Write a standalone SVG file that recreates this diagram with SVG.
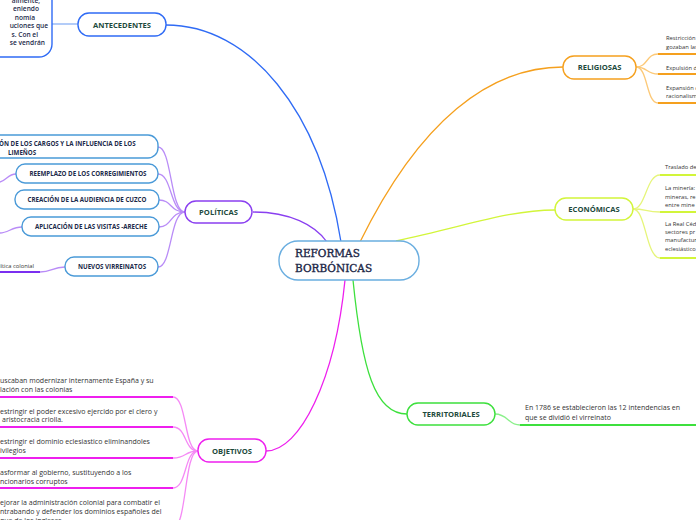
<svg xmlns="http://www.w3.org/2000/svg" width="696" height="520" viewBox="0 0 696 520">
<style>
.bg{fill:#ffffff}
.node{fill:#ffffff;stroke-width:1.4}
.lbl{font-family:"Open Sans","Liberation Sans",sans-serif;font-weight:bold;font-size:7.6px;fill:#1d4a3c;text-anchor:middle}
.sub{font-family:"Open Sans","Liberation Sans",sans-serif;font-weight:bold;font-size:6.2px;fill:#1c2a4a;text-anchor:middle}
.leaf{font-family:"Open Sans","Liberation Sans",sans-serif;font-size:5.8px;fill:#333333}
.obj{font-family:"Open Sans","Liberation Sans",sans-serif;font-size:7px;fill:#333333}
.ant{font-family:"Open Sans","Liberation Sans",sans-serif;font-weight:600;font-size:6.6px;fill:#1c2a4a;text-anchor:end}
.c{fill:none;stroke-width:1.3}
.u{fill:none;stroke-width:2}
</style>
<rect class="bg" x="0" y="0" width="696" height="520"/>
<g id="connectors">
  <path class="c" d="M166,25 C250,25 320,110 341,242" stroke="#2f6bf5" stroke-width="1.6"/>
  <path class="c" d="M360,242 C420,120 490,67 563,67" stroke="#f5a01e" stroke-width="1.6"/>
  <path class="c" d="M396,241 C470,225 510,210 555,210" stroke="#d2f53a" stroke-width="1.6"/>
  <path class="c" d="M253,212 C290,212 315,225 327,242" stroke="#8a3ff0" stroke-width="1.6"/>
  <path class="c" d="M345,280 C335,380 300,451 266,451" stroke="#ee1fee" stroke-width="1.6"/>
  <path class="c" d="M353,280 C362,370 375,414 407,414" stroke="#3de03d" stroke-width="1.6"/>
  <path class="c" d="M52,24 H78" stroke="#8ab0f5"/>
  <g stroke="#b98cf7">
    <path class="c" d="M185,212 C170,212 172,147 158,147"/>
    <path class="c" d="M185,212 C170,212 172,174 158,174"/>
    <path class="c" d="M185,212 C170,212 172,200 159,200"/>
    <path class="c" d="M185,212 C170,212 172,227 159,227"/>
    <path class="c" d="M185,212 C170,212 172,267 158,267"/>
    <path class="c" d="M16,174 C8,174 6,181 0,182"/>
    <path class="c" d="M22,227 C12,227 8,233 0,233"/>
    <path class="c" d="M65,267 C52,267 52,272 40,272"/>
  </g>
  <path class="u" d="M0,272 H40" stroke="#7b2ff0"/>
  <g stroke="#fcc978">
    <path class="c" d="M636,67 C648,67 646,54 658,54"/>
    <path class="c" d="M636,67 C648,67 646,74 658,74"/>
    <path class="c" d="M636,67 C648,67 646,103 658,103"/>
  </g>
  <g stroke="#f5a01e">
    <path class="u" d="M658,54 H696"/>
    <path class="u" d="M658,74 H696"/>
    <path class="u" d="M658,103 H696"/>
  </g>
  <g stroke="#e6f57a">
    <path class="c" d="M633,209 C646,209 646,175 660,175"/>
    <path class="c" d="M633,209 C646,209 646,212 660,212"/>
    <path class="c" d="M633,209 C646,209 646,258 660,258"/>
  </g>
  <g stroke="#d2f53a">
    <path class="u" d="M660,175 H696"/>
    <path class="u" d="M660,212 H696"/>
    <path class="u" d="M660,258 H696"/>
  </g>
  <path class="c" d="M495,414 C508,414 508,425 520,425" stroke="#8af08a"/>
  <path class="u" d="M520,425 H696" stroke="#3de03d"/>
  <g stroke="#f58af5">
    <path class="c" d="M198,451 C184,451 187,397 173,397"/>
    <path class="c" d="M198,451 C184,451 187,427 173,427"/>
    <path class="c" d="M198,451 C184,451 187,458 173,458"/>
    <path class="c" d="M198,451 C184,451 187,488 173,488"/>
    <path class="c" d="M198,451 C184,451 187,528 173,528"/>
  </g>
  <g stroke="#ee1fee">
    <path class="u" d="M0,397 H173"/>
    <path class="u" d="M0,427 H173"/>
    <path class="u" d="M0,458 H173"/>
    <path class="u" d="M0,488 H173"/>
  </g>
</g>

<g id="center">
  <rect class="node" x="279" y="241" width="140" height="39" rx="19" stroke="#6aaee0" stroke-width="1.5"/>
  <text x="295" y="257" font-family="'DejaVu Serif','Liberation Serif',serif" font-size="10.5" fill="#1a2545" stroke="#1a2545" stroke-width="0.35">REFORMAS</text>
  <text x="295" y="272" font-family="'DejaVu Serif','Liberation Serif',serif" font-size="10.5" fill="#1a2545" stroke="#1a2545" stroke-width="0.35">BORBÓNICAS</text>
</g>

<g id="antecedentes-text">
  <rect class="node" x="-20" y="-20" width="72" height="77" rx="13" stroke="#2f6bf5"/>
  <text class="ant" x="40" y="2.5">almente,</text>
  <text class="ant" x="39" y="11">eniendo</text>
  <text class="ant" x="35" y="19.5">nomía</text>
  <text class="ant" x="48" y="28">uciones que</text>
  <text class="ant" x="38" y="36.5">s. Con el</text>
  <text class="ant" x="45" y="45">se vendrán</text>
</g>
<g id="antecedentes">
  <rect class="node" x="78" y="13" width="88" height="23" rx="11" stroke="#2f6bf5"/>
  <text class="lbl" x="122" y="27.5">ANTECEDENTES</text>
</g>

<g id="politicas">
  <rect class="node" x="185" y="201" width="67" height="22" rx="11" stroke="#8a3ff0"/>
  <text class="lbl" x="218.5" y="214.5">POLÍTICAS</text>
</g>
<g id="pol-cargos">
  <rect class="node" x="-20" y="135" width="178" height="23" rx="10" stroke="#4a9ad8"/>
  <text class="sub" x="-1" y="145.5" style="text-anchor:start">ÓN DE LOS CARGOS  Y LA INFLUENCIA DE LOS</text>
  <text class="sub" x="8" y="154.5" style="text-anchor:start">LIMEÑOS</text>
</g>
<g id="pol-corregimientos">
  <rect class="node" x="16" y="164" width="142" height="19" rx="9" stroke="#4a9ad8"/>
  <text class="sub" x="88" y="176">REEMPLAZO DE LOS CORREGIMIENTOS</text>
</g>
<g id="pol-audiencia">
  <rect class="node" x="15" y="190" width="144" height="19" rx="9" stroke="#4a9ad8"/>
  <text class="sub" x="87" y="202">CREACIÓN DE LA AUDIENCIA DE CUZCO</text>
</g>
<g id="pol-visitas">
  <rect class="node" x="22" y="217" width="137" height="19" rx="9" stroke="#4a9ad8"/>
  <text class="sub" x="91" y="229">APLICACIÓN DE LAS VISITAS -ARECHE</text>
</g>
<g id="pol-virreinatos">
  <rect class="node" x="65" y="257" width="93" height="19" rx="9" stroke="#4a9ad8"/>
  <text class="sub" x="112" y="269">NUEVOS VIRREINATOS</text>
</g>
<g id="pol-colonial">
  <text class="leaf" x="-1" y="268">lítica colonial</text>
</g>

<g id="religiosas">
  <rect class="node" x="563" y="56" width="73" height="23" rx="11" stroke="#f5a01e"/>
  <text class="lbl" x="599.5" y="70">RELIGIOSAS</text>
</g>
<g id="rel-leaves">
  <text class="leaf" x="666" y="40">Restricción d</text>
  <text class="leaf" x="666" y="49">gozaban las</text>
  <text class="leaf" x="666" y="70">Expulsión de</text>
  <text class="leaf" x="666" y="90">Expansión d</text>
  <text class="leaf" x="666" y="98">racionalismo</text>
</g>

<g id="economicas">
  <rect class="node" x="555" y="198" width="78" height="22" rx="11" stroke="#d2f53a"/>
  <text class="lbl" x="594" y="211.5">ECONÓMICAS</text>
</g>
<g id="eco-leaves">
  <text class="leaf" x="665" y="169">Traslado de</text>
  <text class="leaf" x="665" y="190">La minería: </text>
  <text class="leaf" x="665" y="199">mineras, re</text>
  <text class="leaf" x="665" y="207">entre mine</text>
  <text class="leaf" x="665" y="226">La Real Céd</text>
  <text class="leaf" x="665" y="234">sectores pr</text>
  <text class="leaf" x="665" y="242">manufactur</text>
  <text class="leaf" x="665" y="251">eclesiástico</text>
</g>

<g id="territoriales">
  <rect class="node" x="407" y="403" width="88" height="22" rx="11" stroke="#3de03d"/>
  <text class="lbl" x="451" y="416.5">TERRITORIALES</text>
</g>
<g id="ter-leaf">
  <text class="obj" x="525" y="410" font-size="6.7">En 1786 se establecieron las  12 intendencias en</text>
  <text class="obj" x="525" y="420" font-size="6.7">que se dividió el virreinato</text>
</g>

<g id="objetivos">
  <rect class="node" x="198" y="439" width="68" height="23" rx="11" stroke="#ee1fee"/>
  <text class="lbl" x="232" y="453.5">OBJETIVOS</text>
</g>
<g id="obj-leaves">
  <text class="obj" x="0" y="382.5">uscaban modernizar internamente España y su</text>
  <text class="obj" x="0" y="392">lación con las colonias</text>
  <text class="obj" x="0" y="413.5">estringir el poder excesivo ejercido por el clero y</text>
  <text class="obj" x="2" y="422">aristocracia criolla.</text>
  <text class="obj" x="0" y="443.5">estringir el dominio eclesiastico  eliminandoles</text>
  <text class="obj" x="0" y="452.5">ivilegios</text>
  <text class="obj" x="0" y="474.5">asformar al gobierno, sustituyendo a los</text>
  <text class="obj" x="0" y="483.5">ncionarios corruptos</text>
  <text class="obj" x="0" y="504.5">ejorar la administración colonial para combatir el</text>
  <text class="obj" x="0" y="513.5">ntrabando y defender los dominios españoles del</text>
  <text class="obj" x="0" y="522.5">que de los ingleses</text>
</g>
</svg>
